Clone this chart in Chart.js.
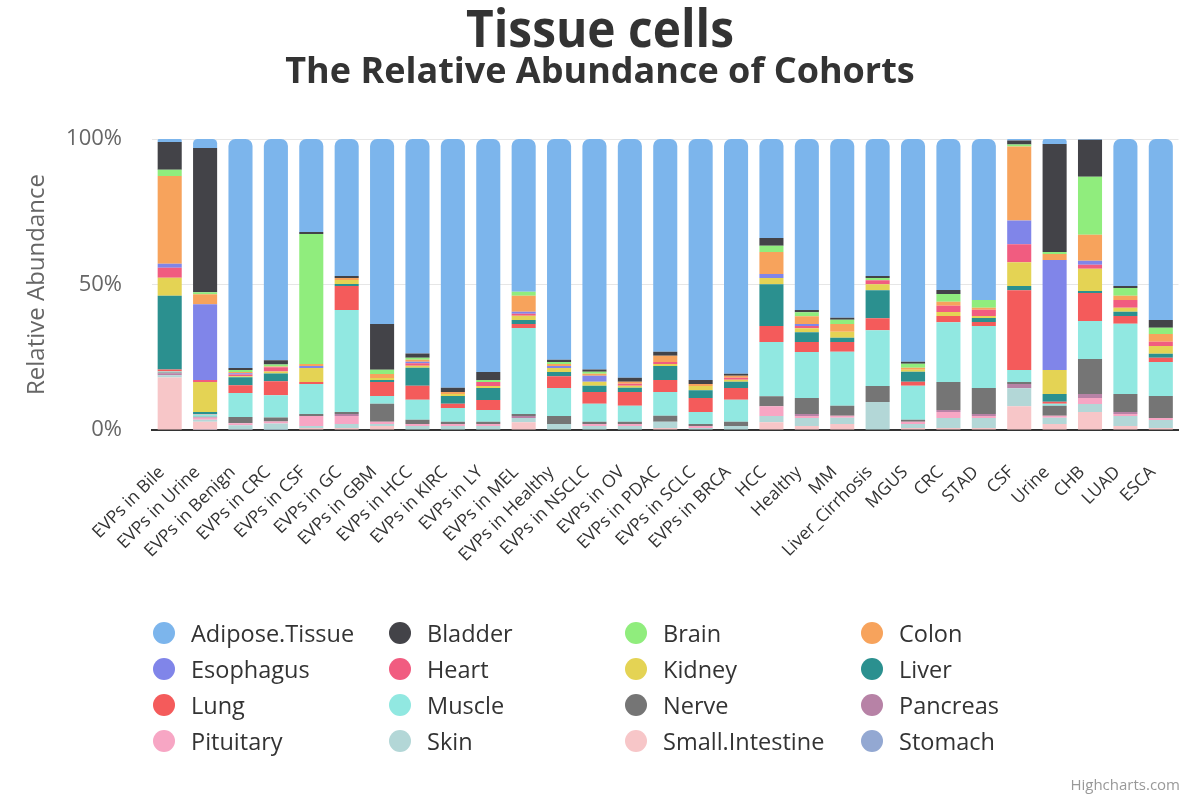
<!DOCTYPE html>
<html>
<head>
<meta charset="utf-8">
<script src="https://cdn.jsdelivr.net/npm/chart.js@4.4.1/dist/chart.umd.min.js"></script>
<style>
  body { margin: 0; background: #fff; }
  #wrap { position: relative; width: 1200px; height: 800px; font-family: "Open Sans", sans-serif; }
  #box { position: absolute; left: 0; top: 0; width: 1200px; height: 800px; }
  .title { position: absolute; left: 0; width: 1200px; text-align: center; color: #333; font-weight: bold; font-family: "Open Sans", "Noto Sans", sans-serif; }
  #t1 { top: -4px; font-size: 52px; line-height: 62px; transform: scaleX(0.92); }
  #t2 { top: 48px; font-size: 36px; line-height: 44px; }
  #legend { position: absolute; left: 153px; top: 615px; width: 1000px; }
  .item { position: absolute; height: 36px; line-height: 36px; font-size: 23.5px; color: #333; white-space: nowrap; }
  .dot { position: absolute; left: 0; top: 7px; width: 22px; height: 22px; border-radius: 50%; }
  .lab { position: absolute; left: 38px; top: 0; }
  #credit { position: absolute; right: 20px; top: 774px; font-size: 15px; color: #999; }
</style>
</head>
<body>
<div id="wrap">
  <div id="box"><canvas id="chart"></canvas></div>
  <div class="title" id="t1">Tissue cells</div>
  <div class="title" id="t2">The Relative Abundance of Cohorts</div>
  <div id="legend"></div>
  <div id="credit">Highcharts.com</div>
</div>
<script>
const categories = ["EVPs in Bile", "EVPs in Urine", "EVPs in Benign", "EVPs in CRC", "EVPs in CSF", "EVPs in GC",
  "EVPs in GBM", "EVPs in HCC", "EVPs in KIRC", "EVPs in LY", "EVPs in MEL", "EVPs in Healthy", "EVPs in NSCLC",
  "EVPs in OV", "EVPs in PDAC", "EVPs in SCLC", "EVPs in BRCA", "HCC", "Healthy", "MM", "Liver_Cirrhosis", "MGUS",
  "CRC", "STAD", "CSF", "Urine", "CHB", "LUAD", "ESCA"];

// one array per tissue, one value per cohort (%)
const adipose = [1.0, 3.1, 78.7, 75.9, 32.0, 47.1, 63.6, 73.9, 85.6, 80.1, 52.6, 75.9, 79.4, 82.1, 73.2, 82.8, 80.8, 34.0, 58.8, 61.5, 47.1, 76.6, 51.9, 55.3, 0.5, 1.7, 0.3, 50.5, 62.2];
const bladder = [9.6, 49.7, 0.7, 1.4, 0.7, 0.7, 15.8, 1.4, 1.4, 2.7, 0, 0.7, 0.7, 1.4, 1.4, 1.4, 0.7, 2.7, 0.7, 0.7, 0.7, 0.7, 1.4, 0, 1.4, 37.1, 12.7, 0.7, 2.7];
const brain = [2.1, 0.7, 0.7, 0.7, 44.7, 0, 1.4, 0.7, 0, 0.7, 1.4, 0.7, 0.7, 0, 0, 0, 0, 2.1, 1.4, 1.4, 0.7, 1.4, 2.7, 2.7, 0.7, 0.7, 19.9, 2.7, 2.1];
const colon = [30.2, 3.4, 0.4, 0.3, 0.7, 0.7, 1.4, 0.7, 0.7, 0, 5.5, 0.7, 0.7, 0.7, 2.1, 0.7, 0.7, 7.6, 2.7, 2.7, 0, 0.7, 1.4, 0.7, 25.4, 2.1, 8.9, 1.4, 2.7];
const esophagus = [1.4, 26.1, 0.4, 0, 0.7, 0, 0, 0.5, 0, 0, 0.7, 0.7, 2.1, 0, 0, 0, 0, 1.4, 0.7, 0, 0, 0, 0, 0, 8.2, 37.8, 1.4, 0, 0];
const heart = [3.4, 0.7, 0.6, 1.4, 0, 0, 0, 0.9, 0, 1.4, 0.7, 0, 0, 0.7, 0.7, 0, 0.7, 0, 0.7, 0, 1.4, 0, 2.1, 2.1, 6.2, 0, 1.4, 2.7, 1.4];
const kidney = [6.2, 10.3, 0.4, 0.7, 4.8, 1.4, 0.7, 0.7, 0.7, 0.7, 1.4, 1.4, 1.4, 0.7, 0.7, 1.4, 0.7, 2.1, 1.4, 2.1, 2.1, 0.7, 1.4, 0.7, 8.2, 8.2, 7.6, 1.4, 2.7];
const liver = [25.4, 0.7, 2.7, 2.7, 0, 0.7, 0.7, 6.2, 2.7, 4.1, 1.4, 1.4, 2.1, 1.4, 4.8, 2.7, 2.1, 14.4, 3.4, 1.4, 9.6, 3.4, 0, 1.4, 1.4, 2.7, 0.7, 1.4, 1.4];
const lung = [0.7, 0.2, 2.7, 4.8, 0.7, 8.2, 4.8, 4.8, 1.4, 3.4, 1.4, 4.1, 4.1, 4.8, 4.1, 4.8, 4.1, 5.5, 3.4, 3.4, 4.1, 1.4, 2.1, 1.4, 27.5, 0.7, 9.6, 2.7, 1.4];
const muscle = [0.3, 0.7, 8.2, 7.6, 10.3, 35.1, 2.7, 6.9, 4.8, 4.1, 29.6, 9.6, 6.2, 5.5, 8.2, 4.1, 7.6, 18.6, 15.8, 18.6, 19.2, 11.7, 20.6, 21.3, 4.1, 0.7, 13.1, 24.1, 11.7];
const nerve = [0.3, 0.2, 2.1, 1.4, 0.7, 0.7, 6.2, 1.4, 0.7, 0.7, 0.7, 2.7, 0.7, 0.7, 2.1, 0.7, 1.4, 3.4, 5.5, 3.4, 5.5, 0.7, 9.6, 8.9, 0.7, 3.4, 12.0, 6.2, 7.6];
const pancreas = [0.7, 0.2, 0.1, 0, 0, 0.7, 0, 0, 0, 0, 0.7, 0, 0, 0, 0, 0, 0, 0, 0.7, 0, 0, 0, 0.7, 0.7, 1.4, 0, 1.4, 0.7, 0];
const pituitary = [0, 0.7, 0.7, 0.7, 3.4, 2.7, 0.7, 0.7, 0.7, 0.7, 0, 0, 0.7, 0.7, 0, 0.7, 0, 3.4, 0.7, 0.7, 0, 0.7, 2.1, 0.7, 0, 0.7, 2.1, 0.7, 0.7];
const skin = [0.7, 0.7, 1.4, 2.1, 0.7, 1.4, 0.7, 1.4, 1.4, 1.4, 1.4, 2.1, 1.4, 1.4, 2.1, 0.7, 1.4, 2.1, 2.7, 2.1, 9.6, 1.4, 3.4, 3.4, 6.2, 2.1, 2.7, 3.4, 2.7];
const smallIntestine = [17.9, 2.7, 0.1, 0, 0.7, 0.7, 1.4, 0, 0, 0, 2.7, 0, 0, 0, 0.7, 0, 0, 2.7, 1.4, 2.1, 0, 0.7, 0.7, 0.7, 8.2, 2.1, 6.2, 1.4, 0.7];
const stomach = [0.2, 0.1, 0.1, 0.1, 0, 0, 0, 0, 0, 0, 0, 0, 0, 0, 0, 0, 0, 0, 0, 0, 0, 0, 0, 0, 0, 0, 0, 0, 0];

const seriesNames = ["Adipose.Tissue", "Bladder", "Brain", "Colon", "Esophagus", "Heart", "Kidney", "Liver",
  "Lung", "Muscle", "Nerve", "Pancreas", "Pituitary", "Skin", "Small.Intestine", "Stomach"];
const seriesValues = [adipose, bladder, brain, colon, esophagus, heart, kidney, liver,
  lung, muscle, nerve, pancreas, pituitary, skin, smallIntestine, stomach];
const colors = ["#7cb5ec", "#434348", "#90ed7d", "#f7a35c", "#8085e9", "#f15c80", "#e4d354", "#2b908f",
  "#f45b5b", "#91e8e1", "#757575", "#b782a6", "#f7a6c4", "#b3d7d7", "#f7c6c8", "#93a8d2"];

// percent stacking, like the original
const totals = categories.map((c, i) => seriesValues.reduce((s, arr) => s + arr[i], 0));

// first series sits on top of the stack, so feed them bottom-first
const datasets = seriesNames.map((name, k) => ({
  label: name,
  data: seriesValues[k].map((v, i) => v / totals[i] * 100),
  backgroundColor: colors[k],
  borderWidth: 0,
  borderRadius: 7,
  barPercentage: 0.68,
  categoryPercentage: 1
})).reverse();

Chart.defaults.font.family = "'Open Sans', sans-serif";

new Chart(document.getElementById("chart"), {
  type: "bar",
  data: { labels: categories, datasets: datasets },
  options: {
    responsive: true,
    maintainAspectRatio: false,
    animation: false,
    layout: { padding: { top: 139, left: 20, right: 20, bottom: 0 } },
    plugins: {
      legend: { display: false },
      tooltip: { enabled: true }
    },
    scales: {
      x: {
        stacked: true,
        grid: { display: false },
        border: { display: true, color: "#333333", width: 2 },
        ticks: {
          autoSkip: false,
          maxRotation: 45,
          minRotation: 45,
          padding: 24,
          labelOffset: -8,
          color: "#333333",
          font: { size: 17.5 }
        },
        afterFit: function (scale) { scale.height = 370; }
      },
      y: {
        stacked: true,
        min: 0,
        max: 100,
        grid: { color: "#e6e6e6", drawTicks: false },
        border: { display: false },
        ticks: {
          stepSize: 50,
          padding: 30,
          color: "#666666",
          font: { size: 22 },
          callback: (v) => v + "%"
        },
        title: {
          display: true,
          text: "Relative Abundance",
          color: "#666666",
          font: { size: 24 },
          padding: { top: 3, bottom: 0 }
        },
        afterFit: function (scale) { scale.width = 132; }
      }
    }
  }
});

// legend in four columns, same order as the series
const legend = document.getElementById("legend");
seriesNames.forEach((name, k) => {
  const item = document.createElement("div");
  item.className = "item";
  item.style.left = (k % 4) * 236 + "px";
  item.style.top = Math.floor(k / 4) * 36 + "px";
  item.innerHTML = '<span class="dot" style="background:' + colors[k] + '"></span><span class="lab">' + name + '</span>';
  legend.appendChild(item);
});
</script>
</body>
</html>
